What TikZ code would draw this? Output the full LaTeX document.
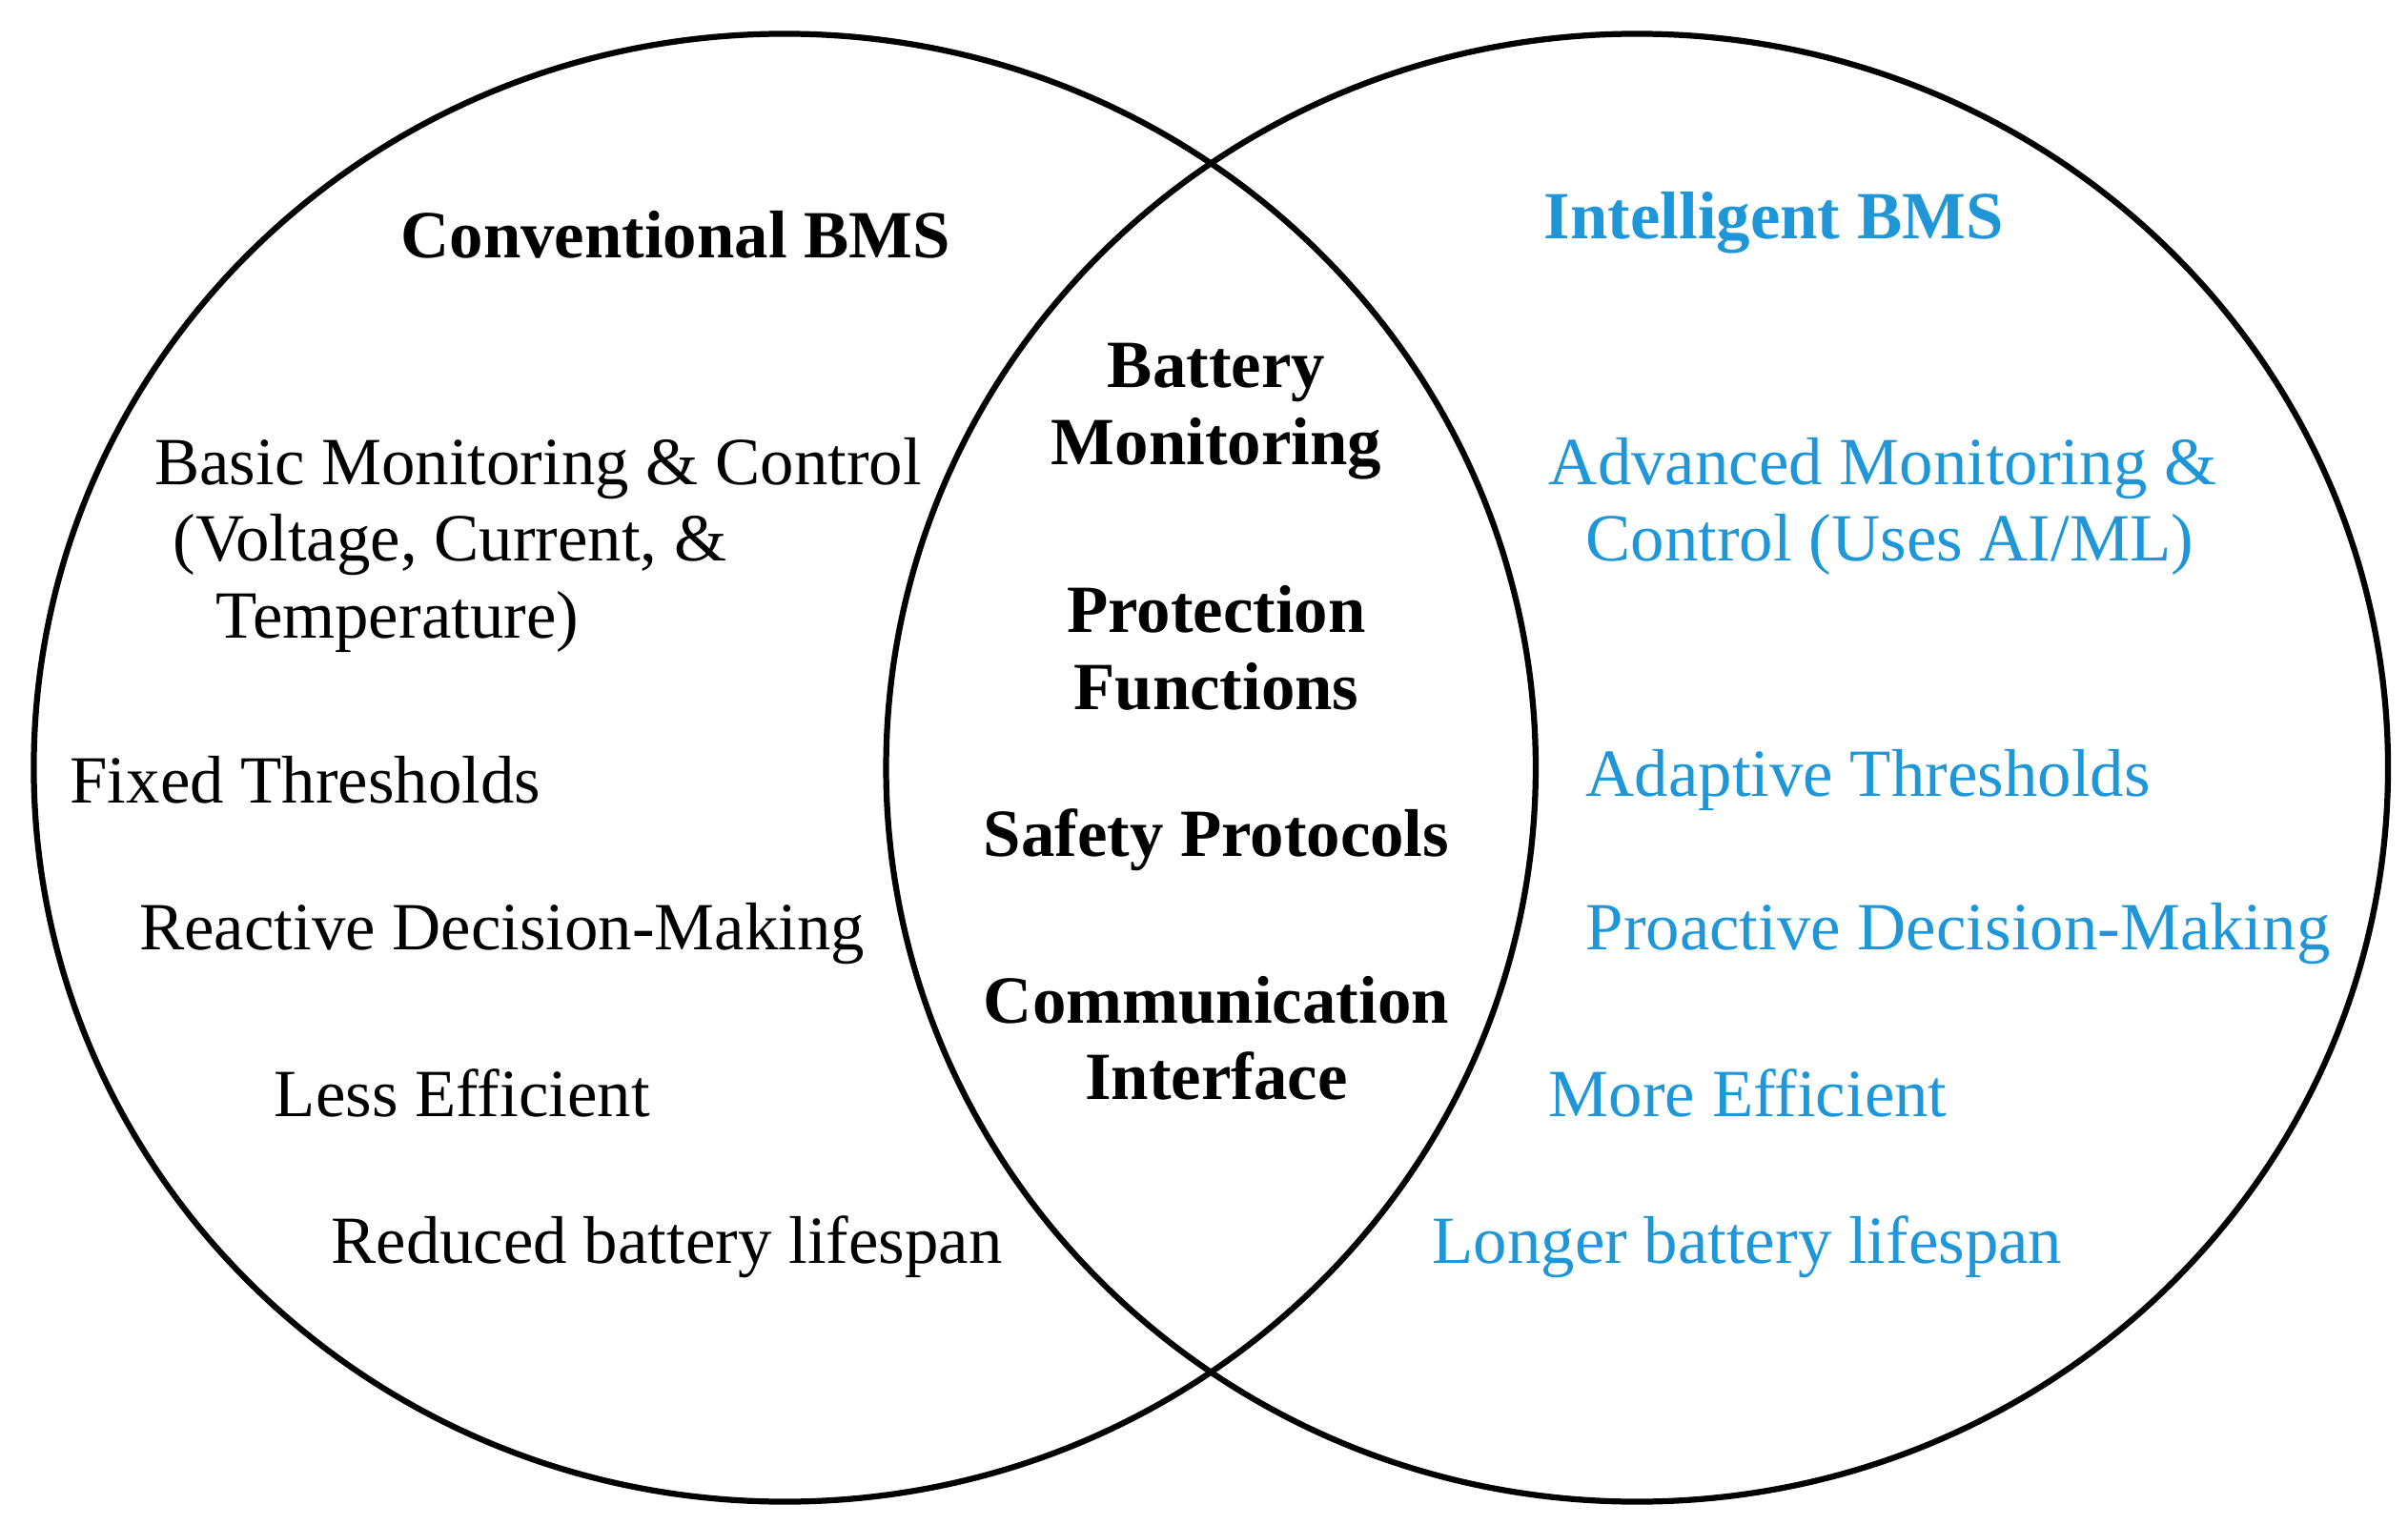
\documentclass[tikz,border=0pt]{standalone}
\usepackage{fontspec}
\setmainfont{Liberation Serif}
\definecolor{iblue}{RGB}{30,150,215}
\begin{document}
\begin{tikzpicture}[x=0.01cm,y=-0.01cm,
  txt/.style={inner sep=0pt,font=\fontsize{12.5}{15}\selectfont},
  lt/.style={txt,anchor=west},
  bl/.style={lt,text=iblue},
  hd/.style={txt,font=\fontsize{12.5}{14.2}\selectfont\bfseries,align=center},
  ring/.style={line width=1.1pt}]
\useasboundingbox (0,0) rectangle (1568,993);
\draw[ring] (511,500) ellipse [x radius=489,y radius=478];
\draw[ring] (1066,500) ellipse [x radius=489,y radius=478];
\node[hd] (cb) at (440,153) {Conventional BMS};
\node[hd,text=iblue] (ib) at (1155,145) {Intelligent BMS};
\node[lt] (c1a) at (100,305) {Basic Monitoring \& Control};
\node[lt] (c1b) at (112,355) {(Voltage, Current, \&};
\node[lt] (c1c) at (140,405) {Temperature)};
\node[lt] (c2) at (45,508) {Fixed Thresholds};
\node[lt] (c3) at (90,608) {Reactive Decision-Making};
\node[lt] (c4) at (178,712) {Less Efficient};
\node[lt] (c5) at (215,812) {Reduced battery lifespan};
\node[hd] (m1) at (792,268) {Battery\\Monitoring};
\node[hd] (m2) at (792,422) {Protection\\Functions};
\node[hd] (m3) at (792,547) {Safety Protocols};
\node[hd] (m4) at (792,676) {Communication\\Interface};
\node[bl] (i1a) at (1008,305) {Advanced Monitoring \&};
\node[bl] (i1b) at (1032,355) {Control (Uses AI/ML)};
\node[bl] (i2) at (1032,508) {Adaptive Thresholds};
\node[bl] (i3) at (1032,608) {Proactive Decision-Making};
\node[bl] (i4) at (1008,712) {More Efficient};
\node[bl] (i5) at (932,812) {Longer battery lifespan};
\end{tikzpicture}
\end{document}
